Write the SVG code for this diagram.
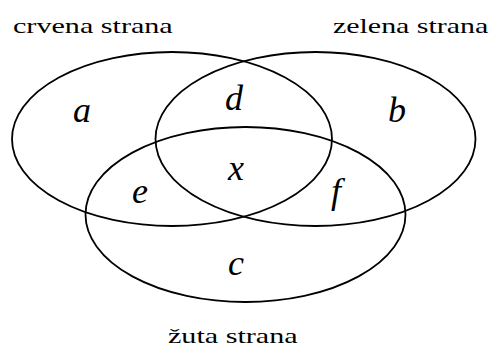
<svg xmlns="http://www.w3.org/2000/svg" width="491" height="347" viewBox="0 0 491 347">
<rect width="491" height="347" fill="#fff"/>
<g id="crvena">
<ellipse fill="none" stroke="#000" stroke-width="1.8" cx="172" cy="139" rx="160" ry="87"/>
<text font-family="Liberation Serif" font-size="22" fill="#000" transform="translate(13,33) scale(1.37,1)">crvena strana</text>
</g>
<g id="zelena">
<ellipse fill="none" stroke="#000" stroke-width="1.8" cx="315.5" cy="139" rx="160" ry="87"/>
<text font-family="Liberation Serif" font-size="22" fill="#000" transform="translate(333,33) scale(1.36,1)">zelena strana</text>
</g>
<g id="zuta">
<ellipse fill="none" stroke="#000" stroke-width="1.8" cx="245.5" cy="214.5" rx="160" ry="87.5"/>
<text font-family="Liberation Serif" font-size="22" fill="#000" transform="translate(168,343) scale(1.37,1)">žuta strana</text>
</g>
<g id="regions" font-family="Liberation Serif" font-style="italic" font-size="36" fill="#000" text-anchor="middle">
<text x="82" y="122">a</text>
<text x="397" y="122">b</text>
<text x="236" y="275">c</text>
<text x="234" y="110">d</text>
<text x="140" y="203">e</text>
<text x="336" y="203">f</text>
<text x="236" y="180">x</text>
</g>
</svg>
